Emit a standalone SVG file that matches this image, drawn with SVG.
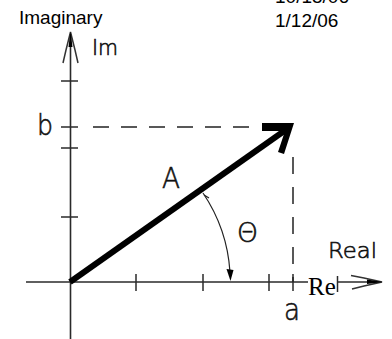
<svg xmlns="http://www.w3.org/2000/svg" width="392" height="339" viewBox="0 0 392 339">
<style>
.ax{stroke:#2a2a2a;stroke-width:1.6;fill:none}
.tk{stroke:#2a2a2a;stroke-width:1.5}
.ds{stroke:#222;stroke-width:1.5;fill:none}
.cad{font-family:"DejaVu Sans",sans-serif;font-weight:200;fill:#111;stroke:#111;stroke-width:0.6}
.hd{font-family:"Liberation Sans",Arial,sans-serif;font-size:19px;fill:#000}
</style>
<rect width="392" height="339" fill="#fff"/>
<g id="connectors">
  <line class="ax" x1="70.5" y1="34" x2="70.5" y2="339"/>
  <polyline class="ax" points="26,282 308,282"/>
  <polyline class="ax" points="337,282 380,282"/>
  <line class="tk" x1="337.5" y1="276" x2="337.5" y2="292"/>
  <g id="im-arrow">
    <path d="M70.5,32 L66,50 L63,63 M70.5,32 L75,50 L78,63" stroke="#333" stroke-width="1.5" fill="none"/>
    <polygon points="70.5,31 72.5,47 68.5,47" fill="#000"/>
  </g>
  <g id="re-arrow">
    <path d="M382,282 L364,278 L351,275.5 M382,282 L364,286 L352,289" stroke="#333" stroke-width="1.5" fill="none"/>
    <polygon points="383,282 367,279.5 367,284" fill="#000"/>
  </g>
  <g id="ticks">
    <line class="tk" x1="61" y1="81" x2="78" y2="81"/>
    <line class="tk" x1="61" y1="127" x2="78" y2="127"/>
    <line class="tk" x1="61" y1="148" x2="78" y2="148"/>
    <line class="tk" x1="61" y1="217" x2="78" y2="217"/>
    <line class="tk" x1="136" y1="274" x2="136" y2="291"/>
    <line class="tk" x1="203" y1="274" x2="203" y2="291"/>
    <line class="tk" x1="269" y1="274" x2="269" y2="291"/>
    <line class="tk" x1="293" y1="274" x2="293" y2="291"/>
  </g>
  <line class="ds" x1="93" y1="127" x2="260" y2="127" stroke-dasharray="16 12"/>
  <line class="ds" x1="293" y1="157" x2="293" y2="282" stroke-dasharray="17 13"/>
  <g id="vector-A">
    <line x1="70" y1="282" x2="287" y2="129" stroke="#000" stroke-width="6"/>
    <polygon points="294,123 262,123 262,131 285,131 278,152 284,154" fill="#000"/>
  </g>
  <g id="angle-arc">
    <path d="M203,193 A160,160 0 0 1 230,272" stroke="#222" stroke-width="1.2" fill="none"/>
    <line x1="204" y1="195" x2="209" y2="198" stroke="#222" stroke-width="1.2"/>
    <polygon points="226.5,269 233.5,270 230.5,281" fill="#000"/>
  </g>
</g>
<g id="node-imaginary"><text class="hd" x="19" y="24">Imaginary</text></g>
<g id="node-date1"><text class="hd" x="275" y="3">10/15/06</text></g>
<g id="node-date2"><text class="hd" x="275" y="27">1/12/06</text></g>
<g id="node-im"><text class="cad" x="92" y="55" font-size="20.5">Im</text></g>
<g id="node-b"><text class="cad" x="37" y="135" font-size="29" textLength="16" lengthAdjust="spacingAndGlyphs">b</text></g>
<g id="node-A"><text class="cad" x="162" y="188" font-size="29" textLength="18" lengthAdjust="spacingAndGlyphs">A</text></g>
<g id="node-theta"><text class="cad" x="237" y="242" font-size="27" textLength="21" lengthAdjust="spacingAndGlyphs">Θ</text></g>
<g id="node-real"><text class="cad" x="328" y="258" font-size="22" textLength="49" lengthAdjust="spacingAndGlyphs">Real</text></g>
<g id="node-a"><text class="cad" x="284" y="320" font-size="30" textLength="16" lengthAdjust="spacingAndGlyphs">a</text></g>
<g id="node-re"><text x="308" y="295" font-family="Liberation Serif,'Times New Roman',serif" font-size="25" fill="#000">Re</text></g>
</svg>
